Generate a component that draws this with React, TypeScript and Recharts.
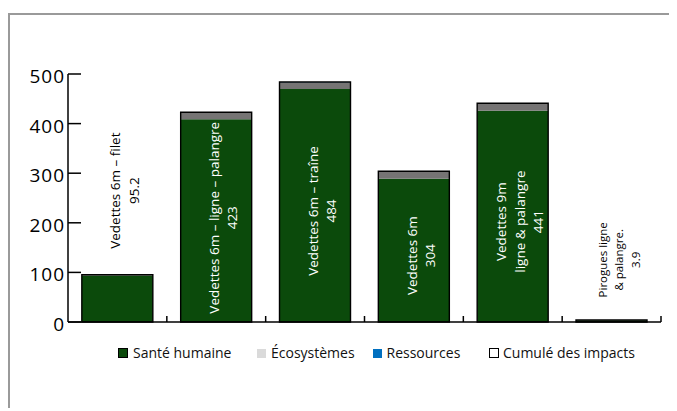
import React from "react";
import { BarChart, Bar, XAxis, YAxis, Legend, LabelList } from "recharts";

// ---- data ----
const categories = [
  "Vedettes 6m – filet",
  "Vedettes 6m – ligne – palangre",
  "Vedettes 6m – traîne",
  "Vedettes 6m",
  "Vedettes 9m\nligne & palangre",
  "Pirogues ligne\n& palangre.",
];
const santeHumaine = [93.8, 409, 470, 289, 426, 3.5];
const ecosystemes = [1.2, 13.5, 13.5, 14.5, 14.5, 0.35];
const ressources = [0.2, 0.5, 0.5, 0.5, 0.5, 0.05];
const cumulImpacts = [95.2, 423, 484, 304, 441, 3.9];
const cumulLabels = ["95.2", "423", "484", "304", "441", "3.9"];
const yTicks = [0, 100, 200, 300, 400, 500];
const seriesNames = ["Santé humaine", "Écosystèmes", "Ressources", "Cumulé des impacts"];

const data = categories.map((name, i) => ({
  name,
  sante: santeHumaine[i],
  eco: ecosystemes[i],
  res: ressources[i],
  total: cumulImpacts[i],
}));

// ---- layout / style ----
const W = 665;
const H = 400;
const MARGIN = { top: 61, right: 12, bottom: 81, left: 0 };
const YAXIS_W = 60;
const XAXIS_H = 10;
const PLOT_LEFT = MARGIN.left + YAXIS_W;
const PLOT_RIGHT = W - MARGIN.right;
const PLOT_BOTTOM = H - MARGIN.bottom - XAXIS_H;
const BW = (PLOT_RIGHT - PLOT_LEFT) / categories.length;

const GREEN = "#0b4a0b";
const GRAY = "#767474";
const LIGHT_GRAY = "#dadada";
const BLUE = "#0070c0";
const FONT = "'Open Sans', sans-serif";

const legendLayout = [
  { fill: GREEN, stroke: "#000", size: 10, sq: 109.5, tx: 125 },
  { fill: LIGHT_GRAY, stroke: "none", size: 9, sq: 249, tx: 263 },
  { fill: BLUE, stroke: "none", size: 9, sq: 365, tx: 378.5 },
  { fill: "#fff", stroke: "#000", size: 10, sq: 480.5, tx: 495 },
];

const YTick = (props: any) => {
  const { y, payload } = props;
  return (
    <g>
      <line x1={PLOT_LEFT} x2={PLOT_LEFT + 13} y1={y} y2={y} stroke="#000" strokeWidth={1.5} />
      <text
        x={PLOT_LEFT - 3}
        y={y}
        dy={2}
        textAnchor="end"
        dominantBaseline="central"
        fontSize={19}
        fontFamily={FONT}
        letterSpacing={1}
        fill="#000"
      >
        {payload.value}
      </text>
    </g>
  );
};

const XTick = (props: any) => {
  const { x } = props;
  const lx = x + BW / 2;
  return <line x1={lx} x2={lx} y1={PLOT_BOTTOM} y2={PLOT_BOTTOM - 6} stroke="#000" strokeWidth={1.5} />;
};

const BarLabel = (props: any) => {
  const { x, y, width, height, value } = props;
  const i = categories.indexOf(value);
  if (i < 0) return null;
  const lines = [...String(value).split("\n"), cumulLabels[i]];
  const small = cumulImpacts[i] < 10;
  const fs = small ? 11.5 : 13.5;
  const lh = small ? 16.5 : 18.5;
  const longest = Math.max(...lines.map((l) => l.length)) * fs * 0.5;
  const top = Number(y);
  const h = Math.abs(Number(height));
  const bottom = top + h;
  const inside = h > longest;
  const cy = inside ? Math.min(top + h / 2 + 9, bottom - 3 - longest / 2) : top - 20 - longest / 2;
  const cx = Number(x) + Number(width) / 2 + 7;
  const n = lines.length;
  return (
    <g>
      {lines.map((line, j) => {
        const lx = cx + (j - (n - 1) / 2) * lh;
        return (
          <text
            key={j}
            x={lx}
            y={cy}
            transform={`rotate(-90 ${lx} ${cy})`}
            textAnchor="middle"
            dominantBaseline="central"
            fontSize={fs}
            fontFamily={FONT}
            fill={inside ? "#fff" : "#000"}
          >
            {line}
          </text>
        );
      })}
    </g>
  );
};

const LegendContent = () => (
  <div style={{ position: "relative", width: W, height: 20, fontFamily: FONT, fontSize: 14, color: "#111" }}>
    {seriesNames.map((name, i) => {
      const l = legendLayout[i];
      return (
        <React.Fragment key={name}>
          <div
            style={{
              position: "absolute",
              left: l.sq,
              top: 10 - l.size / 2,
              width: l.size,
              height: l.size,
              boxSizing: "border-box",
              background: l.fill,
              border: l.stroke === "none" ? "none" : `1.2px solid ${l.stroke}`,
            }}
          />
          <div style={{ position: "absolute", left: l.tx, top: 0, height: 20, lineHeight: "20px", whiteSpace: "nowrap" }}>
            {name}
          </div>
        </React.Fragment>
      );
    })}
  </div>
);

export default function App() {
  return (
    <div style={{ position: "relative", top: 5, width: W, height: H, fontFamily: FONT }}>
      <BarChart width={W} height={H} data={data} margin={MARGIN} barCategoryGap="14%">
        <XAxis
          dataKey="name"
          height={XAXIS_H}
          interval={0}
          tickLine={false}
          axisLine={{ stroke: "#000", strokeWidth: 1.5 }}
          tick={(p: any) => <XTick {...p} />}
        />
        <XAxis xAxisId="overlay" dataKey="name" hide />
        <YAxis
          width={YAXIS_W}
          domain={[0, 500]}
          ticks={yTicks}
          interval={0}
          tickLine={false}
          axisLine={{ stroke: "#000", strokeWidth: 1.5 }}
          tick={(p: any) => <YTick {...p} />}
        />
        <Legend
          layout="horizontal"
          verticalAlign="middle"
          align="center"
          wrapperStyle={{ top: 330, left: 0, bottom: "auto", width: W, height: 20 }}
          content={() => <LegendContent />}
        />
        <Bar dataKey="sante" name={seriesNames[0]} stackId="a" fill={GREEN} isAnimationActive={false} />
        <Bar dataKey="eco" name={seriesNames[1]} stackId="a" fill={GRAY} isAnimationActive={false} />
        <Bar dataKey="res" name={seriesNames[2]} stackId="a" fill={BLUE} isAnimationActive={false} />
        <Bar
          dataKey="total"
          name={seriesNames[3]}
          xAxisId="overlay"
          fill="none"
          stroke="#000"
          strokeWidth={1.4}
          isAnimationActive={false}
        >
          <LabelList dataKey="name" content={(p: any) => <BarLabel {...p} />} />
        </Bar>
      </BarChart>
      <div
        style={{
          position: "absolute",
          left: 0,
          top: 0,
          width: W,
          height: 410,
          border: "2px solid #9a9a9a",
          boxSizing: "border-box",
          pointerEvents: "none",
        }}
      />
    </div>
  );
}
